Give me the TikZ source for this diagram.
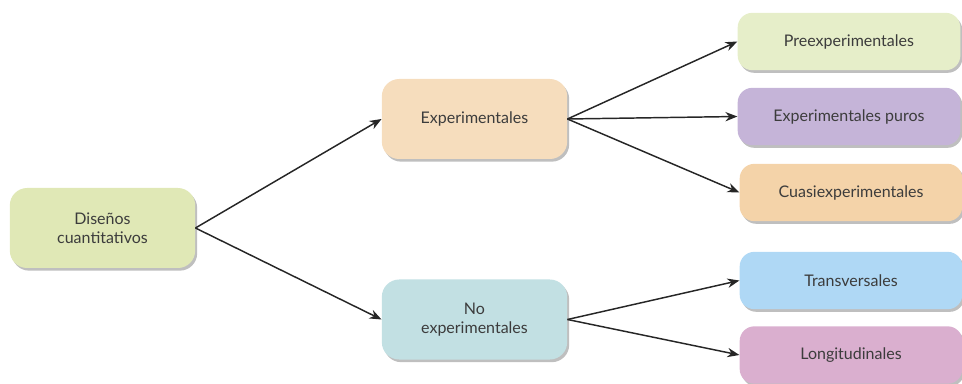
\documentclass[tikz,border=0pt]{standalone}
\usepackage{fontspec}
\setmainfont{Lato}
\usetikzlibrary{arrows.meta,shadows}

\definecolor{txtgray}{HTML}{3C3C3C}
\definecolor{fillroot}{HTML}{E0E8B6}
\definecolor{fillexp}{HTML}{F6DDBD}
\definecolor{fillnoexp}{HTML}{C2E0E3}
\definecolor{fillpre}{HTML}{E6EEC9}
\definecolor{fillpuro}{HTML}{C5B4D8}
\definecolor{fillcuasi}{HTML}{F4D3A9}
\definecolor{filltrans}{HTML}{AFD8F5}
\definecolor{filllong}{HTML}{DAAFCF}

\begin{document}
\begin{tikzpicture}[
    x=0.75pt, y=-0.75pt,
    box/.style={rectangle, rounded corners=13pt, draw=none,
        minimum width=139pt, minimum height=60pt, align=center,
        font=\fontsize{12}{14.5}\selectfont, text=txtgray,
        drop shadow={shadow xshift=1.5pt, shadow yshift=-2pt,
            opacity=0.25, fill=black}},
    leaf/.style={box, rounded corners=11pt,
        minimum width=167pt, minimum height=43pt},
    link/.style={line width=1.1pt, draw=black!85,
        -{Stealth[length=9pt, width=7pt]}}
]
    \useasboundingbox (0,0) rectangle (962,384);

    \node[box, fill=fillroot] (disenos) at (102.5,228) {Diseños\\cuantitativos};
    \node[box, fill=fillexp] (exper) at (474.5,119) {Experimentales};
    \node[box, fill=fillnoexp] (noexper) at (474.5,319.5) {No\\experimentales};

    \node[leaf, fill=fillpre] (preexp) at (849,41.5) {Preexperimentales};
    \node[leaf, fill=fillpuro] (puros) at (849,116.5) {Experimentales puros};
    \node[leaf, fill=fillcuasi] (cuasi) at (851,192.5) {Cuasiexperimentales};
    \node[leaf, fill=filltrans] (trans) at (851,280.5) {Transversales};
    \node[leaf, fill=filllong] (longit) at (851,355) {Longitudinales};

    \draw[link] (disenos.east) -- (exper.west);
    \draw[link] (disenos.east) -- (noexper.west);
    \draw[link] (exper.east) -- (preexp.west);
    \draw[link] (exper.east) -- (puros.west);
    \draw[link] (exper.east) -- (cuasi.west);
    \draw[link] (noexper.east) -- (trans.west);
    \draw[link] (noexper.east) -- (longit.west);
\end{tikzpicture}
\end{document}
